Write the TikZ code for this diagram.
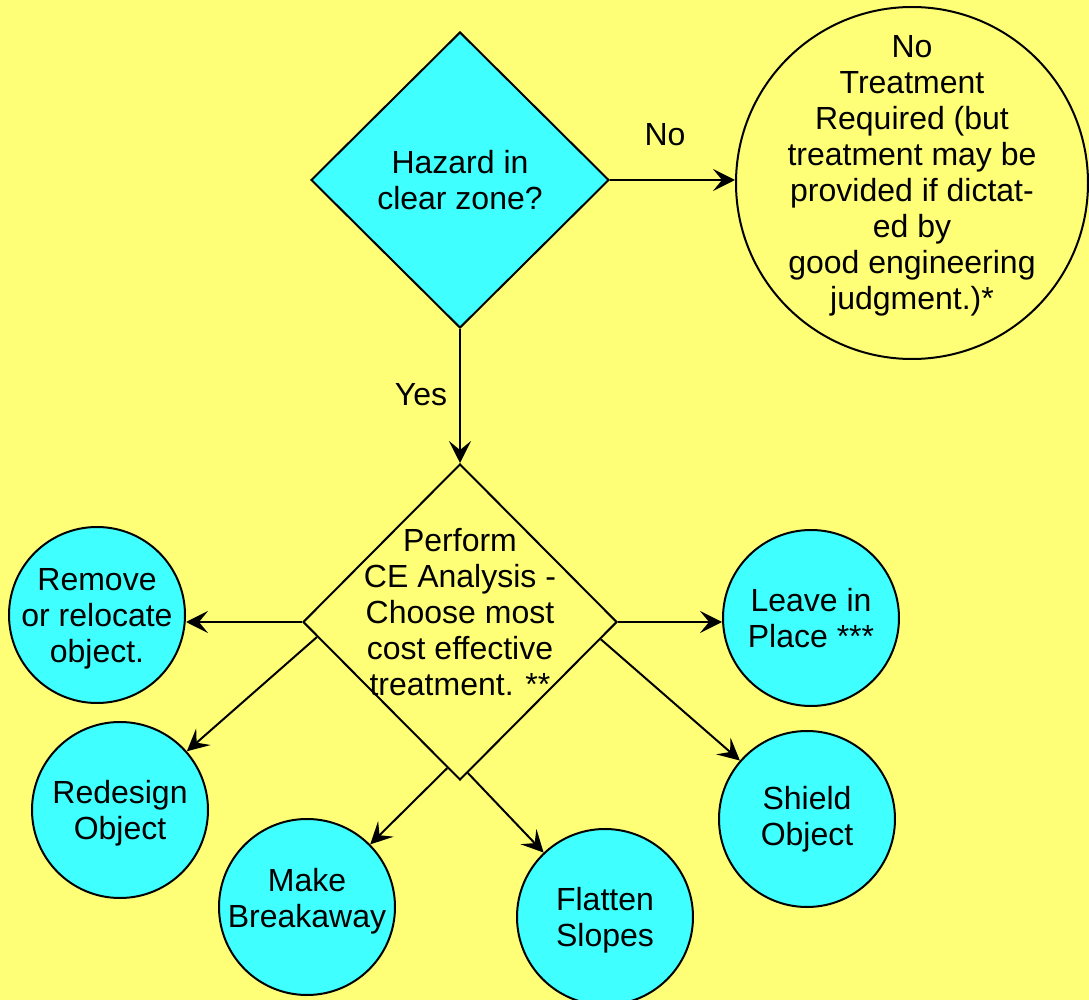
\documentclass[tikz,border=0pt]{standalone}
\usepackage{fontspec}
\setmainfont{Liberation Sans}
\usetikzlibrary{shapes.geometric,arrows.meta}
\definecolor{bgyellow}{HTML}{FFFF77}
\definecolor{boxcyan}{HTML}{3FFFFF}
\begin{document}
\begin{tikzpicture}[x=0.5pt,y=-0.5pt,font=\fontsize{16}{18}\selectfont,
  decision/.style={diamond,draw,line width=1pt,align=center,inner sep=-12pt,aspect=1},
  action/.style={circle,draw,line width=1pt,fill=boxcyan,align=center,inner sep=-14pt,minimum size=88pt},
  flow/.style={-{Stealth[length=11pt,width=11pt,inset=4.5pt]},line width=1pt}]
\fill[bgyellow] (0,0) rectangle (1089,1000);
\useasboundingbox (0,0) rectangle (1089,1000);

\node[decision,fill=boxcyan,minimum width=149pt,minimum height=148pt] (hazard) at (460,180) {Hazard in\\clear zone?};
\node[action,fill=bgyellow,minimum size=176pt,inner sep=-16pt,text depth=11pt] (noTreat) at (912,183) {No\\Treatment\\Required (but\\treatment may be\\provided if dictat-\\ed by\\good engineering\\judgment.)*};
\node[decision,fill=bgyellow,minimum width=157pt,minimum height=158pt,text depth=10pt] (ceAnalysis) at (460,622) {Perform\\ CE Analysis -\\Choose most\\cost effective\\treatment. **};

\node[action,text depth=0pt] (remove) at (97,615) {Remove\\or relocate\\object.};
\node[action,text depth=0pt] (redesign) at (120,810) {Redesign\\Object};
\node[action,text depth=9pt] (breakaway) at (307,907) {Make\\Breakaway};
\node[action,text depth=0pt] (flatten) at (605,917) {Flatten\\Slopes};
\node[action] (leave) at (811,618) {Leave in\\Place ***};
\node[action] (shield) at (807,819) {Shield\\Object};

\node (noLbl) at (665,135) {No};
\node (yesLbl) at (421,395) {Yes};

\draw[flow] (hazard.east) -- (hazard.east -| noTreat.west);
\draw[flow] (hazard.south) -- (ceAnalysis.north);
\draw[flow] (ceAnalysis.west) -- (ceAnalysis.west -| remove.east);
\draw[flow] (ceAnalysis.186) -- (redesign);
\draw[flow] (ceAnalysis.265) -- (breakaway);
\draw[flow] (ceAnalysis.273) -- (flatten);
\draw[flow] (ceAnalysis.east) -- (ceAnalysis.east -| leave.west);
\draw[flow] (ceAnalysis.353) -- (shield);
\end{tikzpicture}
\end{document}
